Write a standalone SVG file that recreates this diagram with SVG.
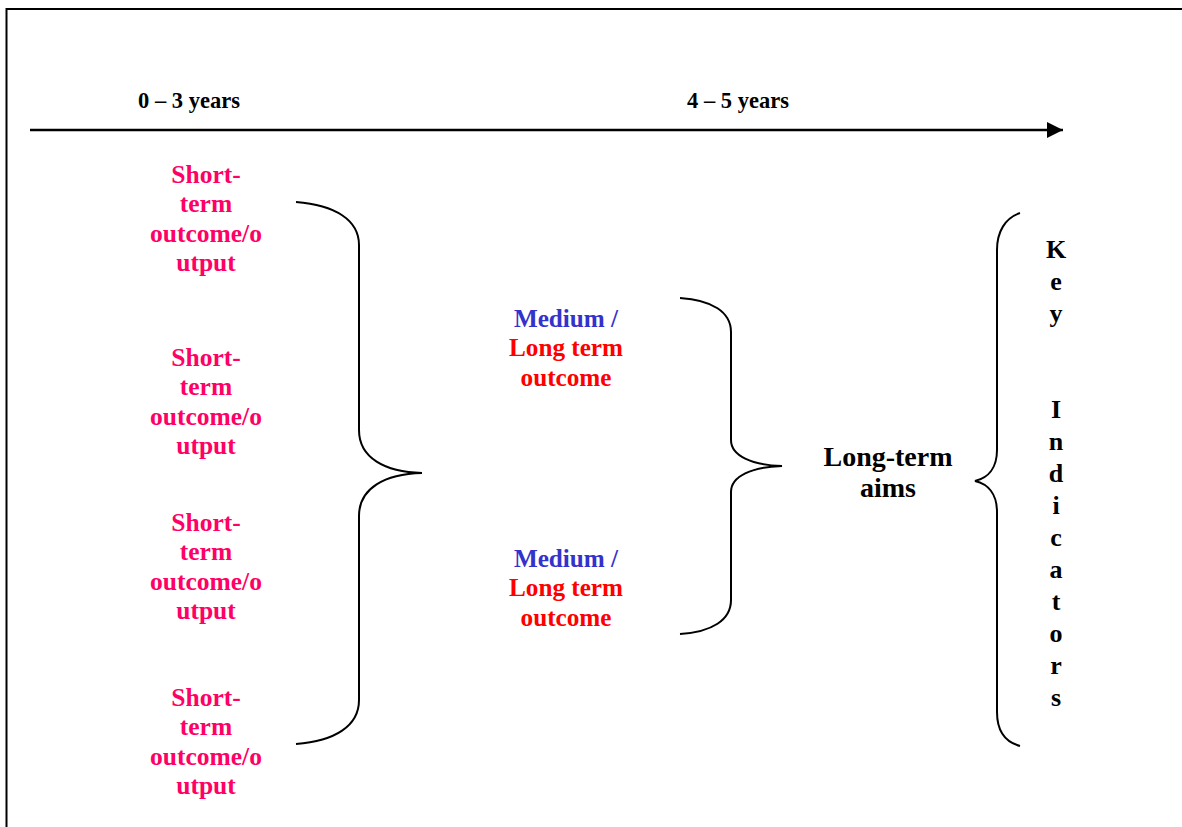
<svg xmlns="http://www.w3.org/2000/svg" width="1182" height="827" viewBox="0 0 1182 827">
<style>
text{font-family:"Liberation Serif","Times New Roman",serif;font-weight:bold;text-anchor:middle}
.s{font-size:25.5px;fill:#FF0066}
.m{font-size:25.2px}
.b{fill:#3333CC}
.r{fill:#FF0000}
.k{font-size:26px;fill:#000}
.a{font-size:28px;fill:#000}
.h{font-size:22.5px;fill:#000}
.br{fill:none;stroke:#000;stroke-width:2}
</style>
<defs>
<marker id="ah" viewBox="0 0 10 10" refX="10" refY="5" markerWidth="16" markerHeight="16" markerUnits="userSpaceOnUse" orient="auto">
<path d="M0,0 L10,5 L0,10 Z" fill="#000"/>
</marker>
</defs>
<rect width="1182" height="827" fill="#fff"/>
<path d="M6.5,827 V9 H1182" fill="none" stroke="#000" stroke-width="2"/>
<g id="timeline">
<text class="h" x="189" y="108">0 – 3 years</text>
<text class="h" x="738" y="108">4 – 5 years</text>
</g>
<g id="connectors">
<line x1="30" y1="130" x2="1063" y2="130" stroke="#000" stroke-width="2.5" marker-end="url(#ah)"/>
<path class="br" d="M296,202 C335,205 359,220 359,245 V430 C359,458 385,472 422,473 C385,474 359,488 359,516 V700 C359,726 335,741 296,744"/>
<path class="br" d="M680,298 C712,300 731,312 731,332 V440 C731,456 752,465 782,466 C752,467 731,476 731,492 V600 C731,620 712,632 680,634"/>
<path class="br" d="M1020,213 C1005,218 997,232 997,250 V450 C997,468 988,478 975,481 C988,484 997,494 997,512 V712 C997,730 1005,742 1020,746"/>
</g>
<g id="short1">
<text class="s" x="206" y="183">Short-</text>
<text class="s" x="206" y="212">term</text>
<text class="s" x="206" y="242">outcome/o</text>
<text class="s" x="206" y="271">utput</text>
</g>
<g id="short2">
<text class="s" x="206" y="366">Short-</text>
<text class="s" x="206" y="395">term</text>
<text class="s" x="206" y="425">outcome/o</text>
<text class="s" x="206" y="454">utput</text>
</g>
<g id="short3">
<text class="s" x="206" y="531">Short-</text>
<text class="s" x="206" y="560">term</text>
<text class="s" x="206" y="590">outcome/o</text>
<text class="s" x="206" y="619">utput</text>
</g>
<g id="short4">
<text class="s" x="206" y="706">Short-</text>
<text class="s" x="206" y="735">term</text>
<text class="s" x="206" y="765">outcome/o</text>
<text class="s" x="206" y="794">utput</text>
</g>
<g id="medium1">
<text class="m b" x="566" y="327">Medium /</text>
<text class="m r" x="566" y="356">Long term</text>
<text class="m r" x="566" y="386">outcome</text>
</g>
<g id="medium2">
<text class="m b" x="566" y="567">Medium /</text>
<text class="m r" x="566" y="596">Long term</text>
<text class="m r" x="566" y="626">outcome</text>
</g>
<g id="aims">
<text class="a" x="888" y="466">Long-term</text>
<text class="a" x="888" y="497">aims</text>
</g>
<g id="indicators">
<text class="k" x="1056" y="258">K</text>
<text class="k" x="1056" y="290">e</text>
<text class="k" x="1056" y="322">y</text>
<text class="k" x="1056" y="418">I</text>
<text class="k" x="1056" y="450">n</text>
<text class="k" x="1056" y="482">d</text>
<text class="k" x="1056" y="514">i</text>
<text class="k" x="1056" y="546">c</text>
<text class="k" x="1056" y="578">a</text>
<text class="k" x="1056" y="610">t</text>
<text class="k" x="1056" y="642">o</text>
<text class="k" x="1056" y="674">r</text>
<text class="k" x="1056" y="706">s</text>
</g>
</svg>
